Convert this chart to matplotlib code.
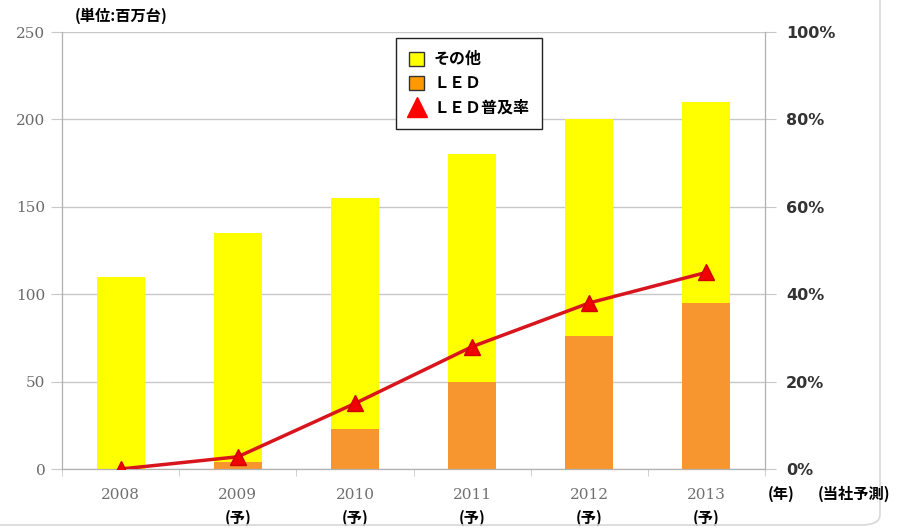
import matplotlib.pyplot as plt
from matplotlib.patches import FancyBboxPatch, Patch
from matplotlib.lines import Line2D
import numpy as np

plt.rcParams['font.family'] = ['Noto Sans CJK JP', 'DejaVu Sans']

years = ['2008', '2009', '2010', '2011', '2012', '2013']
forecast = ['', '(予)', '(予)', '(予)', '(予)', '(予)']
total = [110, 135, 155, 180, 200, 210]
led = [0, 4, 23, 50, 76, 95]
led_rate = [0, 2.8, 15, 28, 38, 45]
other = [t - l for t, l in zip(total, led)]

fig = plt.figure(figsize=(9, 5.29), dpi=100)
ax = fig.add_axes([0.069, 0.1134, 0.781, 0.8261])
ax2 = ax.twinx()

x = np.arange(len(years))
w = 0.41
ax.bar(x, led, w, color='#f7962f', zorder=2)
ax.bar(x, other, w, bottom=led, color='#ffff00', zorder=2)
ax.set_xlim(-0.5, len(years) - 0.5)
ax.set_ylim(0, 250)
ax.set_yticks(range(0, 251, 50))
ax.yaxis.grid(True, color='#c8c8c8', lw=1, zorder=0)
ax.set_axisbelow(True)

ax2.plot(x, led_rate, color='#d8141c', lw=2.5, marker='^', ms=11,
         mfc='#f00000', mec='#d00000', zorder=5)
ax2.set_ylim(0, 100)
ax2.set_yticks(range(0, 101, 20))
ax2.set_yticklabels([f'{v}%' for v in range(0, 101, 20)])

for a in (ax, ax2):
    a.spines['top'].set_visible(False)
    a.spines['left'].set_color('#b0b0b0')
    a.spines['right'].set_color('#b0b0b0')
    a.spines['bottom'].set_color('#b0b0b0')
ax.tick_params(axis='y', length=8, color='#c8c8c8', labelsize=11,
               labelcolor='#6a6a6a', pad=4)
ax2.tick_params(axis='y', length=8, color='#c8c8c8', labelsize=11.5,
                labelcolor='#333333', pad=7)
for t in ax2.get_yticklabels():
    t.set_fontweight('bold')
    t.set_family('DejaVu Sans')
for t in ax.get_yticklabels():
    t.set_family('DejaVu Serif')

ax.set_xticks(x)
ax.set_xticklabels(years, fontsize=11, color='#707070', family='DejaVu Serif')
ax.set_xticks(np.arange(len(years) + 1) - 0.5, minor=True)
ax.tick_params(axis='x', which='major', length=0, pad=14)
ax.tick_params(axis='x', which='minor', length=5, color='#c8c8c8')

for i, f in enumerate(forecast):
    if f:
        ax.annotate(f, (x[i], 0), xycoords=('data', 'axes fraction'),
                    xytext=(0, -35), textcoords='offset points', ha='center',
                    va='center', fontsize=11, fontweight='bold')

fig.text(768 / 900, 1 - 494 / 529, '(年)', fontsize=11, fontweight='bold',
         va='center', ha='left')
fig.text(818 / 900, 1 - 494 / 529, '(当社予測)', fontsize=11, fontweight='bold',
         va='center', ha='left')
fig.text(75 / 900, 1 - 16 / 529, '(単位:百万台)', fontsize=11, fontweight='bold',
         va='center', ha='left')

handles = [Patch(facecolor='#ffff00', edgecolor='#333333', label='その他'),
           Patch(facecolor='#ff9900', edgecolor='#333333', label='ＬＥＤ'),
           Line2D([], [], color='none', marker='^', ms=14, mfc='#ff0000',
                  mec='#ff0000', label='ＬＥＤ普及率')]
leg = ax2.legend(handles=handles, loc='upper left',
                 bbox_to_anchor=(334 / 703, (469 - 38) / 437), frameon=True,
                 fancybox=False, edgecolor='#222222', framealpha=1,
                 prop={'size': 11, 'weight': 'bold'}, handlelength=1.0,
                 handleheight=1.0, labelspacing=0.55, borderpad=0.85,
                 handletextpad=0.6, borderaxespad=0)
leg.get_frame().set_linewidth(1.0)
for t in leg.get_texts():
    t.set_fontsize(11.5)

frame = FancyBboxPatch((-20 / 900, 1 - 525 / 529), 900 / 900, 560 / 529,
                       boxstyle='round,pad=0,rounding_size=0.02',
                       transform=fig.transFigure, fill=False,
                       edgecolor='#d8d8d8', lw=1.2, clip_on=False)
fig.patches.append(frame)

fig.savefig('out.png', dpi=100)
